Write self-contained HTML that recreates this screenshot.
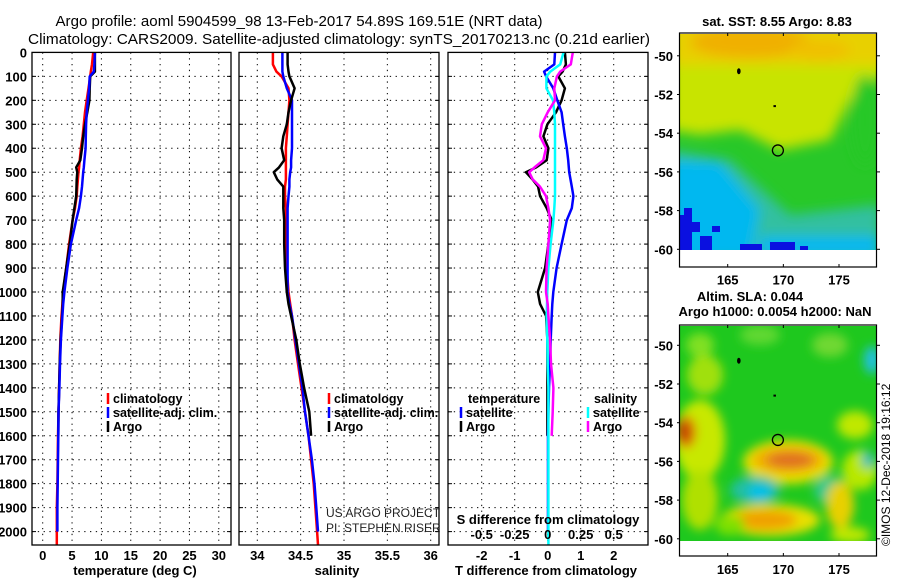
<!DOCTYPE html>
<html><head><meta charset="utf-8"><style>
html,body{margin:0;padding:0;background:#fff;}
svg{display:block;font-family:"Liberation Sans",Arial,sans-serif;}
.tk{font-size:13px;font-weight:bold;fill:#000;}
.lg{font-size:12.5px;font-weight:bold;fill:#000;}
</style></head><body>
<svg id="c" width="900" height="580" viewBox="0 0 900 580" xmlns="http://www.w3.org/2000/svg">
<defs>
<filter id="bl" x="-20%" y="-20%" width="140%" height="140%"><feGaussianBlur stdDeviation="6"/></filter>
<filter id="bl2" x="-20%" y="-20%" width="140%" height="140%"><feGaussianBlur stdDeviation="5"/></filter>
<clipPath id="m1"><rect x="680" y="34" width="196" height="216"/></clipPath>
<clipPath id="m2"><rect x="680" y="326" width="196" height="215"/></clipPath>
</defs>
<text x="299" y="26" text-anchor="middle" font-size="15" textLength="487" lengthAdjust="spacingAndGlyphs">Argo profile: aoml 5904599_98 13-Feb-2017 54.89S 169.51E (NRT data)</text>
<text x="339" y="44" text-anchor="middle" font-size="15" textLength="622" lengthAdjust="spacingAndGlyphs">Climatology: CARS2009. Satellite-adjusted climatology: synTS_20170213.nc (0.21d earlier)</text>
<g id="maps"></g>
<g id="plots"></g>
</svg>
<script>
// ---- data ----
const depths = [0,50,80,100,150,200,250,300,350,400,450,480,500,530,560,600,650,700,800,900,1000,1050,1100,1200,1300,1400,1500,1600,1700,1800,1900,2000,2055];
const tempClim = [8.6,8.4,8.2,8.1,7.8,7.5,7.2,7.0,6.8,6.5,6.3,6.2,6.1,6.0,5.9,5.8,5.5,5.1,4.5,4.0,3.5,3.35,3.2,3.0,2.9,2.8,2.7,2.6,2.55,2.5,2.4,2.4,2.4];
const tempSat = [8.9,8.8,8.7,8.0,7.9,7.7,7.5,7.4,7.35,7.3,7.1,7.0,6.9,6.8,6.7,6.5,6.2,5.7,4.8,4.2,3.7,3.5,3.35,3.1,2.95,2.85,2.7,2.65,2.6,2.55,2.5,2.5,null];
const tempArgo = [8.9,8.9,8.9,8.1,8.0,7.95,7.6,7.2,6.9,6.7,6.4,5.7,5.9,5.8,5.75,5.7,5.4,5.1,4.6,4.0,3.4,3.4,3.3,3.05,2.9,2.8,2.7,2.65,null,null,null,null,null];
const salClim = [34.18,34.18,34.22,34.28,34.36,34.37,34.36,34.35,34.34,34.33,34.33,34.33,34.33,34.33,34.32,34.32,34.33,34.33,34.33,34.34,34.36,34.38,34.40,34.43,34.47,34.51,34.55,34.59,34.62,34.65,34.67,34.69,34.70];
const salSat = [34.29,34.29,34.29,34.30,34.34,34.40,34.40,34.40,34.40,34.40,34.39,34.39,34.38,34.37,34.37,34.36,34.35,34.35,34.35,34.35,34.35,34.37,34.40,34.44,34.48,34.52,34.55,34.59,34.63,34.66,34.68,34.70,null];
const salArgo = [34.35,34.35,34.36,34.37,34.43,34.39,34.36,34.34,34.30,34.28,34.31,34.25,34.19,34.23,34.30,34.30,34.30,34.31,34.31,34.32,34.34,34.36,34.39,34.45,34.49,34.54,34.60,34.62,null,null,null,null,null];
const dTSat = [0.22,0.2,-0.11,-0.05,0.17,0.29,0.42,0.47,0.52,0.58,0.62,0.64,0.65,0.69,0.73,0.78,0.73,0.58,0.42,0.27,0.17,0.14,0.12,0.09,0.07,0.04,0.02,0.01,0.01,0.01,0.01,0.01,null];
const dTArgo = [0.52,0.55,0.45,0.32,0.52,0.42,0.25,-0.01,-0.13,0.02,-0.03,-0.35,-0.66,-0.46,-0.29,-0.23,-0.03,0.12,0.02,-0.08,-0.3,-0.23,-0.05,-0.01,-0.01,-0.01,-0.01,-0.01,null,null,null,null,null];
const dSSat = [0.12,0.095,0.02,-0.01,-0.01,0.04,0.05,0.055,0.055,0.055,0.055,0.055,0.055,0.055,0.055,0.055,0.05,0.043,0.022,0.005,-0.003,-0.005,-0.008,-0.003,0.0,0.005,0.005,0.005,0.005,0.005,0.005,0.005,0.005];
const dSArgo = [0.19,0.175,0.095,0.07,0.05,0.055,0.0,-0.045,-0.058,-0.013,-0.033,-0.1,-0.14,-0.114,-0.058,-0.013,0.005,0.018,0.005,-0.008,-0.013,0.0,0.005,0.018,0.025,0.043,0.038,0.03,null,null,null,null,null];
const depthTicks = [0,100,200,300,400,500,600,700,800,900,1000,1100,1200,1300,1400,1500,1600,1700,1800,1900,2000];
const tempTicks = [0,5,10,15,20,25,30];
const salTicks = [34,34.5,35,35.5,36];
const dTTicks = [-2,-1,0,1,2];
const dSTicks = [-0.5,-0.25,0,0.25,0.5];
const lonTicks = [165,170,175];
const latTicks = [-50,-52,-54,-56,-58,-60];
const argoLon = 169.51, argoLat = -54.89;

const NS='http://www.w3.org/2000/svg';
function mk(tag, attrs, parent, txt){const e=document.createElementNS(NS,tag);for(const k in attrs)e.setAttribute(k,attrs[k]);if(txt!=null)e.textContent=txt;parent.appendChild(e);return e;}
const plots=document.getElementById('plots'), maps=document.getElementById('maps');
const TOP=52.4, BOT=545, D0=52.4, DPX=0.2396;
const yD=d=>D0+d*DPX;
const panels=[
 {x0:32,x1:231,xs:v=>42.7+v*5.87,name:'temperature'},
 {x0:239,x1:439,xs:v=>257.3+(v-34)*86.7,name:'salinity'},
 {x0:448,x1:648,xs:v=>547.7+v*33,name:'difference'}
];
const xS=v=>547.7+v*132;
panels.forEach((p,i)=>{
  const g=mk('g',{},plots);
  
  
  depthTicks.forEach(d=>{ if(d===0)return;
    const l=mk('line',{x1:p.x0,x2:p.x1,y1:yD(d),y2:yD(d),stroke:'#000','stroke-width':1,'stroke-dasharray':'1.3,4.5'},g);
    
    
    mk('line',{x1:p.x0,x2:p.x0+4,y1:yD(d),y2:yD(d),stroke:'#000'},g);
    mk('line',{x1:p.x1,x2:p.x1-4,y1:yD(d),y2:yD(d),stroke:'#000'},g);
  });
  const xt = i===0?tempTicks:i===1?salTicks:dTTicks;
  xt.forEach(v=>{const x=p.xs(v);
    mk('line',{x1:x,x2:x,y1:TOP,y2:BOT,stroke:'#000','stroke-width':1,'stroke-dasharray':'1.3,4.5'},g);
    const t=mk('text',{x:x,y:560,class:'tk','text-anchor':'middle'},g,String(v));
    
    
  });
});
depthTicks.forEach(d=>{const t=mk('text',{x:27,y:yD(d)+5,class:'tk','text-anchor':'end','font-size':13.5},plots,String(d));
  
  });
function line(xs, vals, color, w, name){
  let pts=[];depths.forEach((d,i)=>{if(vals[i]!=null)pts.push(xs(vals[i]).toFixed(1)+','+yD(d).toFixed(1));});
  const e=mk('polyline',{points:pts.join(' '),fill:'none',stroke:color,'stroke-width':w,'stroke-linejoin':'round'},plots);
  
  
}
const P=panels;
line(P[0].xs,tempClim,'#f00',2.5,'temp-climatology-line');
line(P[0].xs,tempArgo,'#000',2.5,'temp-argo-line');
line(P[0].xs,tempSat,'#00f',2.5,'temp-satellite-line');
line(P[1].xs,salClim,'#f00',2.5,'sal-climatology-line');
line(P[1].xs,salSat,'#00f',2.5,'sal-satellite-line');
line(P[1].xs,salArgo,'#000',2.5,'sal-argo-line');
line(P[2].xs,dTArgo,'#000',2.5,'tdiff-argo-line');
line(P[2].xs,dTSat,'#00f',2.5,'tdiff-satellite-line');
line(xS,dSSat,'#0ff',2.5,'sdiff-satellite-line');
line(xS,dSArgo,'#f0f',2.5,'sdiff-argo-line');
P.forEach(p=>{mk('rect',{x:p.x0,y:TOP,width:p.x1-p.x0,height:BOT-TOP,fill:'none',stroke:'#000','stroke-width':1.3},plots);});
dSTicks.forEach(v=>{const t=mk('text',{x:xS(v),y:539,class:'tk','text-anchor':'middle'},plots,String(v));
  
  });
function txt(x,y,s,cls,name,extra){const t=mk('text',Object.assign({x:x,y:y,class:cls},extra||{}),plots,s);
  
  return t;}
txt(548,524,'S difference from climatology','tk','s-diff-axis-title',{'text-anchor':'middle'});
txt(135,575,'temperature (deg C)','tk','x-axis-title-temperature',{'text-anchor':'middle'});
txt(337,575,'salinity','tk','x-axis-title-salinity',{'text-anchor':'middle'});
txt(546,575,'T difference from climatology','tk','x-axis-title-tdiff',{'text-anchor':'middle'});
function leg(x,y,color,s,name){mk('line',{x1:x,x2:x,y1:y-10,y2:y+1,stroke:color,'stroke-width':2.5},plots);
  txt(x+5,y,s,'lg',name);}
leg(108,403,'#f00','climatology','legend-climatology');
leg(108,417,'#00f','satellite-adj. clim.','legend-satellite-adj');
leg(108,431,'#000','Argo','legend-argo');
leg(329,403,'#f00','climatology','legend-sal-climatology');
leg(329,417,'#00f','satellite-adj. clim.','legend-sal-satellite-adj');
leg(329,431,'#000','Argo','legend-sal-argo');
txt(468,403,'temperature','lg','legend-temperature-header');
leg(461,417,'#00f','satellite','legend-t-satellite');
leg(461,431,'#000','Argo','legend-t-argo');
txt(594,403,'salinity','lg','legend-salinity-header');
leg(588,417,'#0ff','satellite','legend-s-satellite');
leg(588,431,'#f0f','Argo','legend-s-argo');
txt(326,517,'US ARGO PROJECT','','us-argo-project-label',{'font-size':12,fill:'#222'});
txt(326,532,'PI: STEPHEN RISER','','pi-label',{'font-size':12,fill:'#222'});

// ---- maps ----
const LX=lo=>727.7+(lo-165)*11.13;
function mapAxes(lat50,name){
  const yL=la=>lat50+(-50-la)*19.35;
  const g=mk('g',{},maps);
  
  
  return {g,yL};
}
const A=mapAxes(55.8,'sst-map');
(function(){const g=A.g;const c=mk('g',{'clip-path':'url(#m1)'},g);
 mk('rect',{x:680,y:34,width:196,height:216,fill:'#28c828'},c);
 const b=mk('g',{filter:'url(#bl)'},c);
 mk('polygon',{points:'670,20 890,20 890,70 850,100 830,140 780,150 740,130 700,135 670,130',fill:'#c8e400'},b);
 mk('rect',{x:670,y:20,width:220,height:45,fill:'#e8d000'},b);
 mk('ellipse',{cx:750,cy:42,rx:60,ry:16,fill:'#f0b000'},b);
 mk('ellipse',{cx:820,cy:50,rx:30,ry:10,fill:'#f0c000'},b);
 mk('ellipse',{cx:865,cy:120,rx:14,ry:45,fill:'#28c828'},b);
 mk('polygon',{points:'670,150 730,160 790,215 880,205 880,260 670,260',fill:'#30c0a0'},b);
 mk('polygon',{points:'670,160 720,162 760,210 750,260 670,260',fill:'#00b8f0'},b);
 mk('rect',{x:760,y:236,width:120,height:20,fill:'#00b8f0'},b);
 const bl=mk('g',{},c);
 [[680,215,12,35],[692,222,8,10],[700,236,12,14],[684,208,8,8],[712,226,8,6],[740,244,22,6],[770,242,25,8],[800,246,8,4]].forEach(r=>mk('rect',{x:r[0],y:r[1],width:r[2],height:r[3],fill:'#0a10e0'},bl));
 mk('rect',{x:680,y:250,width:196,height:17,fill:'#fff'},g);
})();
const B=mapAxes(345.3,'sla-map');
(function(){const g=B.g;const c=mk('g',{'clip-path':'url(#m2)'},g);
 mk('rect',{x:680,y:326,width:196,height:215,fill:'#1ec81e'},c);
 const b=mk('g',{filter:'url(#bl2)'},c);
 [[700,345,14,12,'#80e020'],[760,335,20,10,'#60d830'],[830,345,18,12,'#70d830'],[705,375,18,20,'#a0e010'],
  [700,440,25,40,'#c8e800'],[686,432,10,16,'#e07000'],[684,432,6,10,'#c04000'],
  [788,462,45,22,'#e8e000'],[788,460,36,14,'#f0b000'],[790,460,24,8,'#e07020'],
  [855,425,18,14,'#c0e800'],[860,470,18,20,'#b8e800'],[872,360,8,14,'#20c0e0'],[868,460,6,8,'#20b8c0'],
  [755,490,25,14,'#20c0a0'],[760,492,12,7,'#00c0f0'],[830,490,16,14,'#30c890'],
  [770,520,50,16,'#e8e000'],[765,520,32,10,'#f0a000'],[840,505,14,24,'#e8d000'],[700,500,18,30,'#b0e000'],[730,525,15,10,'#80e000'],[850,535,20,8,'#c0e800']]
 .forEach(e=>mk('ellipse',{cx:e[0],cy:e[1],rx:e[2],ry:e[3],fill:e[4]},b));
 mk('rect',{x:680,y:541,width:196,height:15,fill:'#fff'},g);
})();
[[A,33,267,279.6],[B,325,556,569]].forEach(([M,top,bot,ly])=>{
  const g=M.g;
  mk('rect',{x:679.5,y:top,width:197,height:bot-top,fill:'none',stroke:'#000','stroke-width':1.2},g);
  lonTicks.forEach(lo=>{const x=LX(lo);
    mk('line',{x1:x,x2:x,y1:top,y2:top+3,stroke:'#000'},g);mk('line',{x1:x,x2:x,y1:bot,y2:bot-3,stroke:'#000'},g);
    const t=mk('text',{x:x,y:ly+5,class:'tk','text-anchor':'middle'},g,String(lo));
    
    });
  latTicks.forEach(la=>{const y=M.yL(la);
    mk('line',{x1:677,x2:680,y1:y,y2:y,stroke:'#000'},g);mk('line',{x1:876,x2:880,y1:y,y2:y,stroke:'#000'},g);
    const t=mk('text',{x:673,y:y+5,class:'tk','text-anchor':'end'},g,String(la));
    
    });
  const cx=LX(argoLon), cy=M.yL(argoLat);
  const m=mk('circle',{cx:cx,cy:cy,r:5.5,fill:'none',stroke:'#000','stroke-width':1.3},g);
  
  
  mk('ellipse',{cx:LX(166),cy:M.yL(-50.8),rx:1.8,ry:3,fill:'#000'},g);
  mk('rect',{x:LX(169.2)-1,y:M.yL(-52.6)-1,width:2.5,height:2,fill:'#000'},g);
});
function mt(x,y,s,name){const t=mk('text',{x:x,y:y,class:'tk','text-anchor':'middle'},maps,s);
  
  }
mt(777,26,'sat. SST: 8.55 Argo: 8.83','sst-map-title');
mt(750,301,'Altim. SLA: 0.044','sla-map-title');
mt(775,316,'Argo h1000: 0.0054 h2000: NaN','argo-height-label');
const im=mk('text',{x:0,y:0,'font-size':12,transform:'translate(890,546) rotate(-90)'},maps,'©IMOS 12-Dec-2018 19:16:12');


</script>
</body></html>
